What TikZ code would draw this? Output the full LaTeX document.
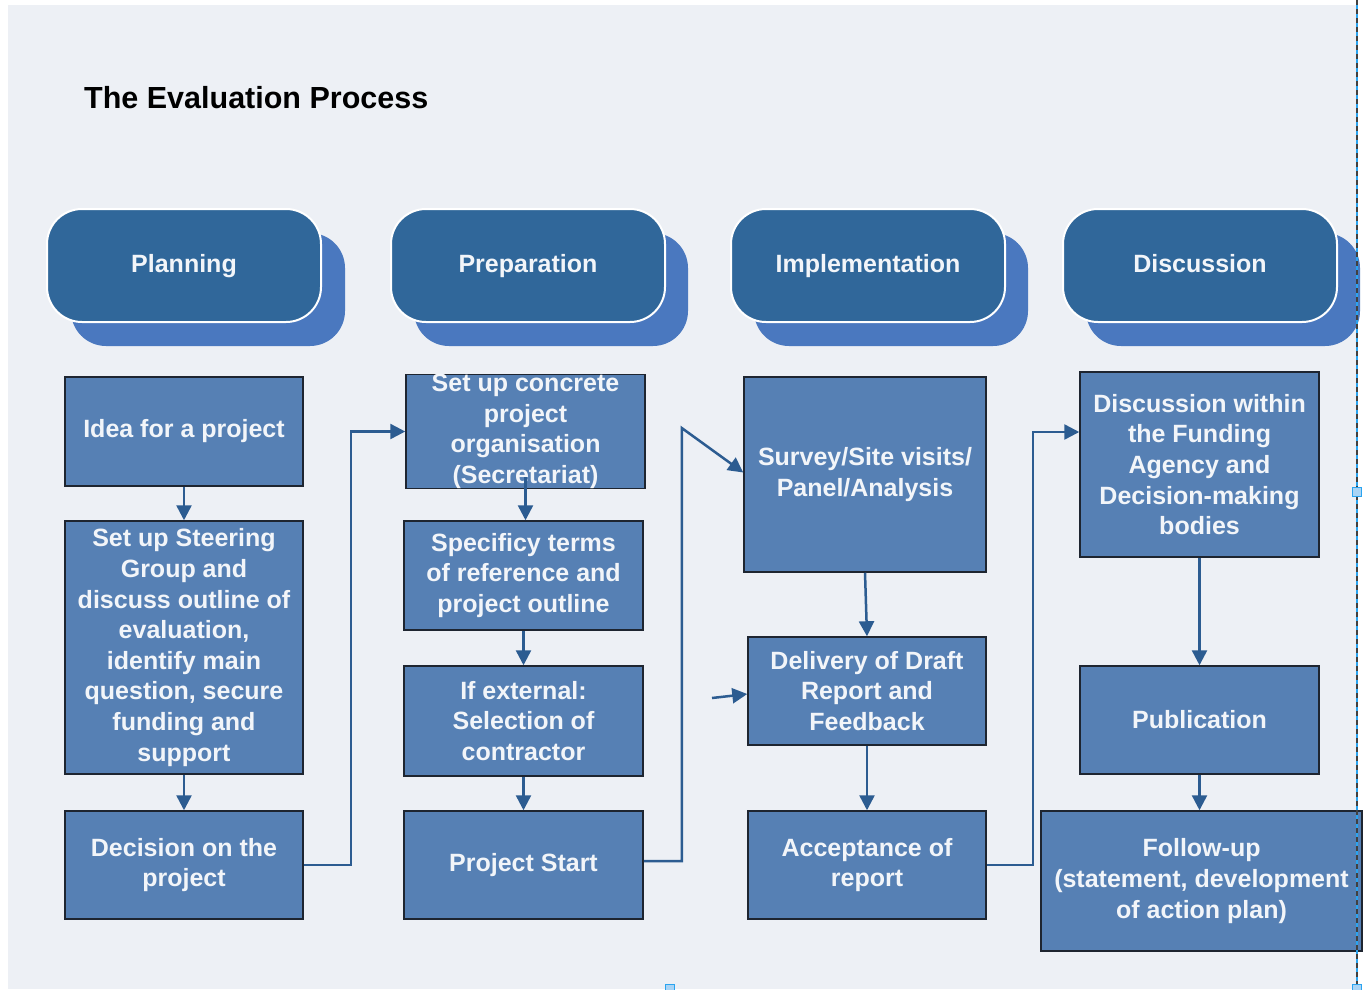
\documentclass[tikz,border=0pt]{standalone}
\usepackage{fontspec}
\setmainfont{Liberation Sans}
\usetikzlibrary{arrows.meta}
\definecolor{bg}{HTML}{EDF0F5}
\definecolor{hdrblue}{HTML}{30679A}
\definecolor{shdblue}{HTML}{4A78BF}
\definecolor{boxblue}{HTML}{5680B4}
\definecolor{boxline}{HTML}{1E2530}
\definecolor{arrblue}{HTML}{2C5C91}
\definecolor{txt}{HTML}{F2F5F9}
\definecolor{selblue}{HTML}{2AA4F0}
\definecolor{selfill}{HTML}{A9D4F5}
\begin{document}
\begin{tikzpicture}[x=1pt,y=-1pt,
  hdr/.style={draw=white, line width=2pt, fill=hdrblue, rounded corners=35pt,
    minimum width=274pt, minimum height=113pt, inner sep=0pt, text=txt,
    text height=18pt, text depth=5pt,
    font=\fontsize{25}{30.6}\selectfont\bfseries},
  shd/.style={fill=shdblue, rounded corners=35pt, minimum width=274pt,
    minimum height=113pt, inner sep=0pt},
  stepbox/.style={draw=boxline, line width=1.5pt, fill=boxblue, text=txt,
    align=center, inner sep=0pt,
    font=\fontsize{25}{30.6}\selectfont\bfseries},
  arr/.style={draw=arrblue, line width=2.5pt, -{Triangle[length=15pt,width=15pt]}}
]
\useasboundingbox (0,0) rectangle (1367,989);
\fill[white] (0,0) rectangle (1367,989);
\fill[bg] (8,5) rectangle (1357,989);

\node[anchor=base west, inner sep=0pt, font=\fontsize{30.5}{36}\selectfont\bfseries] (title) at (84,108) {The Evaluation Process};

% headers with shadows
\node[shd] (s1) at (208,289.5) {};
\node[shd] (s2) at (551,289.5) {};
\node[shd] (s3) at (891,289.5) {};
\node[shd] (s4) at (1223,289.5) {};
\node[hdr] (h1) at (184,265.5) {Planning};
\node[hdr] (h2) at (528,265.5) {Preparation};
\node[hdr] (h3) at (868,265.5) {Implementation};
\node[hdr] (h4) at (1200,265.5) {Discussion};

% column 1
\node[stepbox, minimum width=238pt, minimum height=109pt] (idea) at (184,431.5) {Idea for a project};
\node[stepbox, minimum width=238pt, minimum height=253pt] (steer) at (184,647.5) {Set up Steering\\Group and\\discuss outline of\\evaluation,\\identify main\\question, secure\\funding and\\support};
\node[stepbox, minimum width=238pt, minimum height=108pt] (dec) at (184,865) {Decision on the\\project};

% column 2
\node[stepbox, minimum width=239pt, minimum height=109pt] (setup) at (525.5,431.5) {Set up concrete\\project\\organisation\\(Secretariat)};
\node[stepbox, minimum width=239pt, minimum height=109pt] (spec) at (523.5,575.5) {Specificy terms\\of reference and\\project outline};
\node[stepbox, minimum width=239pt, minimum height=110pt] (ifext) at (523.5,721) {If external:\\Selection of\\contractor};
\node[stepbox, minimum width=239pt, minimum height=108pt] (pstart) at (523.5,865) {Project Start};

% column 3
\node[stepbox, minimum width=242pt, minimum height=195pt] (survey) at (865,474.5) {Survey/Site visits/\\Panel/Analysis};
\node[stepbox, minimum width=238pt, minimum height=108pt] (deliv) at (867,691) {Delivery of Draft\\Report and\\Feedback};
\node[stepbox, minimum width=238pt, minimum height=108pt] (accept) at (867,865) {Acceptance of\\report};

% column 4
\node[stepbox, minimum width=239pt, minimum height=185pt] (discw) at (1199.5,464.5) {Discussion within\\the Funding\\Agency and\\Decision-making\\bodies};
\node[stepbox, minimum width=239pt, minimum height=108pt] (publ) at (1199.5,720) {Publication};
\node[stepbox, minimum width=321pt, minimum height=140pt] (follow) at (1201.5,881) {Follow-up\\(statement, development\\of action plan)};

% connectors
\draw[arr] (idea) -- (steer);
\draw[arr] (steer) -- (dec);
\draw[arr] (dec.east) -- ++(47,0) |- (setup.west);
\draw[arr] ([yshift=12pt]setup.south) -- (setup.south |- spec.north);
\draw[arr] (spec) -- (ifext);
\draw[arr] (ifext) -- (pstart);
\draw[arr] ([yshift=4pt]pstart.east) -- ++(38,0) -- ++(0,-433) -- ([yshift=2pt]survey.west);
\draw[arr] (survey.south) -- (deliv.north);
\coordinate (stray) at (712,698);
\draw[arr] (stray) -- ([yshift=-3pt]deliv.west);
\draw[arr] (deliv) -- (accept);
\draw[arr] (accept.east) -- ++(46,0) |- ([yshift=32.5pt]discw.west);
\draw[arr] (discw.south) -- (discw.south |- publ.north);
\draw[arr] (publ.south) -- (publ.south |- follow.north);

% selection marks
\draw[selblue, line width=1.5pt] (1357,0) -- (1357,989);
\draw[black!75, line width=1.5pt, dash pattern=on 5pt off 4pt] (1357,0) -- (1357,989);
\filldraw[draw=selblue, fill=selfill, line width=1pt] (1352.5,487.5) rectangle (1361.5,496.5);
\filldraw[draw=selblue, fill=selfill, line width=1pt] (1352.5,984) rectangle (1361.5,993);
\filldraw[draw=selblue, fill=selfill, line width=1pt] (665.5,984) rectangle (674.5,993);
\end{tikzpicture}
\end{document}
